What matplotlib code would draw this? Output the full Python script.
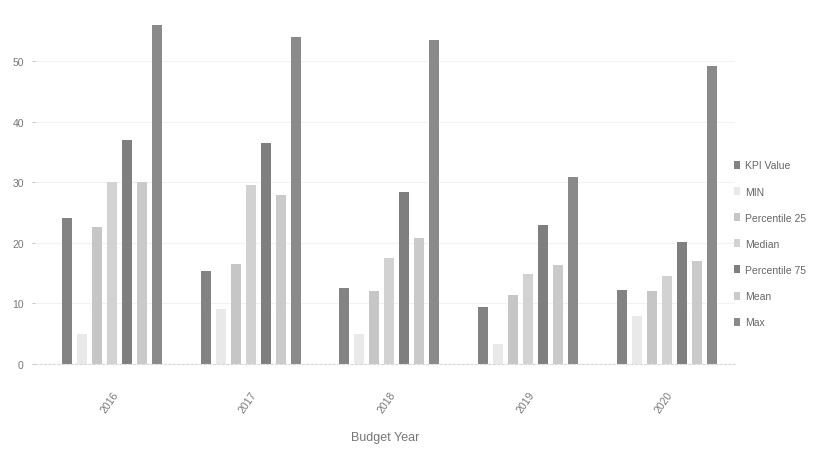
import matplotlib
matplotlib.use("Agg")
import matplotlib.pyplot as plt
import numpy as np

plt.rcParams['font.family'] = ['Liberation Sans Narrow', 'Liberation Sans', 'DejaVu Sans']

years = ["2016", "2017", "2018", "2019", "2020"]
series_names = ["KPI Value", "MIN", "Percentile 25", "Median", "Percentile 75", "Mean", "Max"]

kpi_value = [24.1, 15.3, 12.5, 9.4, 12.2]
min_value = [5.0, 9.1, 5.0, 3.3, 7.9]
pct_25 = [22.6, 16.5, 12.0, 11.4, 12.0]
median = [30.0, 29.5, 17.5, 14.9, 14.5]
pct_75 = [37.0, 36.6, 28.4, 22.9, 20.1]
mean = [30.0, 28.0, 20.8, 16.3, 17.0]
max_value = [56.0, 54.0, 53.6, 30.9, 49.2]

series = [kpi_value, min_value, pct_25, median, pct_75, mean, max_value]
colors = ["#838383", "#e9e9e9", "#c6c6c6", "#d2d2d2", "#7f7f7f", "#cacaca", "#8a8a8a"]

fig = plt.figure(figsize=(8.25, 4.52), dpi=100)
ax = fig.add_axes([0.0424, 0.1925, 0.848, 0.7765])

x = np.arange(len(years))
step = 0.108
width = 0.072
offsets = (np.arange(len(series)) - (len(series) - 1) / 2) * step

for vals, off, col, name in zip(series, offsets, colors, series_names):
    ax.bar(x + off, vals, width=width, color=col, label=name, zorder=2)

ax.set_xlim(-0.555, 4.49)
ax.set_ylim(0, 58)
ax.set_yticks([0, 10, 20, 30, 40, 50])
ax.set_xticks(x)
ax.set_xticklabels(years, rotation=55, ha="right", rotation_mode="anchor")

ax.tick_params(axis="y", length=2, width=0.6, colors="#bbbbbb", labelcolor="#777777",
               labelsize=7.5, pad=6)
ax.tick_params(axis="x", length=0, labelcolor="#777777", labelsize=7.5, pad=18)

ax.grid(axis="y", color="#f4f1f1", linewidth=0.8, zorder=0)
for side in ["top", "right", "left"]:
    ax.spines[side].set_visible(False)
ax.spines["bottom"].set_color("#d8d8d8")
ax.spines["bottom"].set_linestyle((0, (2, 2)))
ax.spines["bottom"].set_linewidth(0.8)

ax.set_xlabel("Budget Year", color="#777777", fontsize=9, labelpad=12)

fig.legend(loc="upper left", bbox_to_anchor=(0.885, 0.652), frameon=False,
           fontsize=7.5, labelcolor="#666666", handlelength=0.55, handleheight=0.8,
           handletextpad=0.5, labelspacing=1.55, borderaxespad=0)

fig.savefig("out.png", dpi=100, facecolor="white")
